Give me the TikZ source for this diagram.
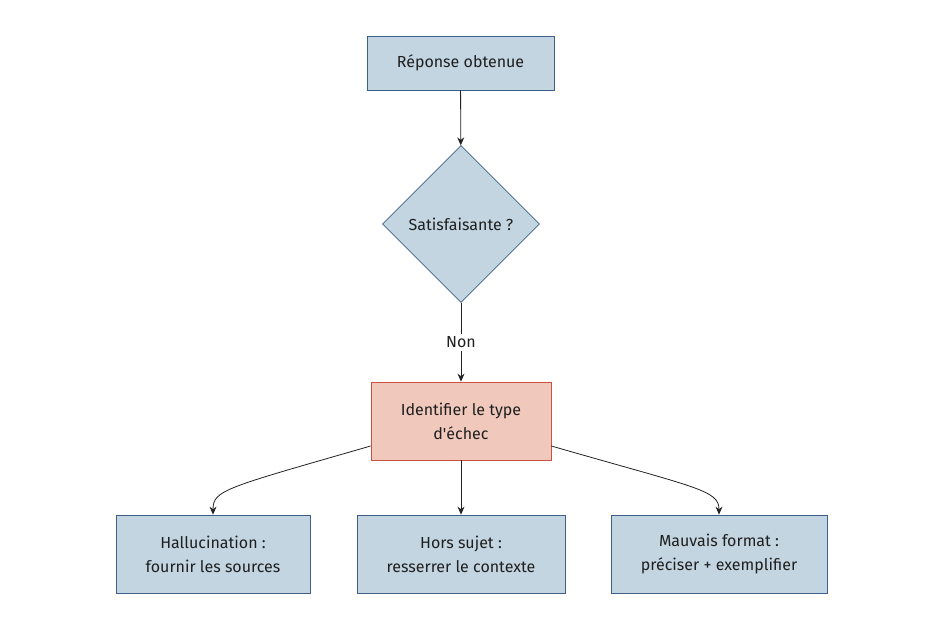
\documentclass[tikz,border=0pt]{standalone}
\usepackage{fontspec}
\setmainfont{Fira Sans}
\usepackage{tikz}
\usetikzlibrary{shapes.geometric, arrows.meta, positioning, calc}
\definecolor{boxfill}{RGB}{195,213,224}
\definecolor{boxline}{RGB}{62,96,136}
\definecolor{failfill}{RGB}{240,200,188}
\definecolor{failline}{RGB}{200,82,62}
\definecolor{linkgray}{RGB}{34,34,34}

\begin{document}
\begin{tikzpicture}[x=1pt, y=-1pt,
    font=\fontsize{16}{24}\selectfont, text=black!88,
    stepbox/.style={draw=boxline, fill=boxfill, line width=0.8pt, align=center, inner sep=0pt},
    failbox/.style={stepbox, draw=failline, fill=failfill},
    choice/.style={diamond, draw=boxline, fill=boxfill, line width=0.8pt, aspect=1, inner sep=0pt, minimum size=157pt},
    link/.style={draw=linkgray, line width=0.8pt, -{Stealth[length=8pt, width=7pt]}}]
    % Page
    \useasboundingbox (0,0) rectangle (945,630);

    % Steps
    \node[stepbox, minimum width=187pt, minimum height=54pt] (answer) at (460.5,63) {Réponse obtenue};
    \node[choice] (ok) at (461,224) {Satisfaisante ?};
    \node[failbox, minimum width=180pt, minimum height=78pt] (kind) at (461,421) {Identifier le type\\d\textquotesingle échec};

    % Fixes
    \node[stepbox, minimum width=194pt, minimum height=78pt] (halluc) at (213,554) {Hallucination :\\fournir les sources};
    \node[stepbox, minimum width=208pt, minimum height=78pt] (offtopic) at (461,554) {Hors sujet :\\resserrer le contexte};
    \node[stepbox, minimum width=216pt, minimum height=78pt] (format) at (719,554) {Mauvais format :\\préciser + exemplifier};

    % Links
    \draw[link] (answer) -- (ok);
    \draw[link] (ok) -- node[fill=white, inner sep=3pt] {Non} (kind);
    \draw[link] (kind) -- (offtopic);
    \draw[link] ([yshift=-25pt]kind.west) .. controls (225,488) and (213,490) .. (halluc.north);
    \draw[link] ([yshift=-25pt]kind.east) .. controls (697,488) and (719,490) .. (format.north);
\end{tikzpicture}
\end{document}
